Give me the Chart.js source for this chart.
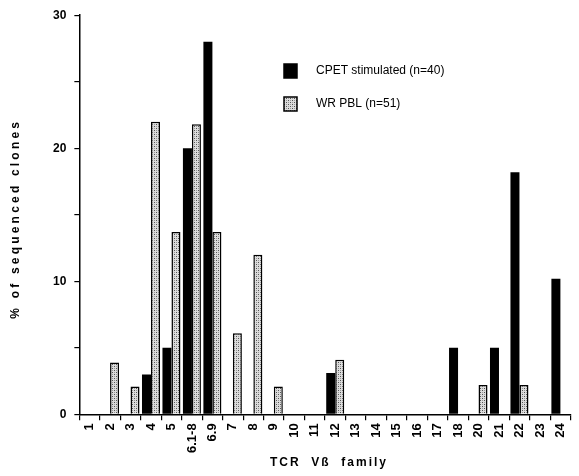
<!DOCTYPE html>
<html>
<head>
<meta charset="utf-8">
<script src="https://cdn.jsdelivr.net/npm/chart.js@4"></script>
<style>
  html, body { margin: 0; padding: 0; background: #fff; }
  #wrap { width: 579px; height: 476px; }
</style>
</head>
<body>
<div id="wrap"><canvas id="chart" width="579" height="476"></canvas></div>
<script>
const families = ["1", "2", "3", "4", "5", "6.1-8", "6.9", "7", "8", "9", "10", "11", "12",
  "13", "14", "15", "16", "17", "18", "20", "21", "22", "23", "24"];
const cpetValues = [0, 0, 0, 3, 5, 20, 28, 0, 0, 0, 0, 0, 3.1, 0, 0, 0, 0, 0, 5, 0, 5, 18.2, 0, 10.2];
const wrValues = [0, 3.9, 2.1, 22, 13.7, 21.8, 13.7, 6.1, 12, 2.1, 0, 0, 4.1, 0, 0, 0, 0, 0, 0, 2.2, 0, 2.2, 0, 0];
const yTicks = [0, 10, 20, 30];
const xTitle = "TCR  Vß  family";
const yTitle = "% of sequenced clones";

function makePattern() {
  const c = document.createElement("canvas");
  c.width = 4; c.height = 4;
  const g = c.getContext("2d");
  g.fillStyle = "#dcdcdc";
  g.fillRect(0, 0, 4, 4);
  g.fillStyle = "#555";
  g.fillRect(0, 0, 1, 1);
  g.fillRect(2, 2, 1, 1);
  g.fillStyle = "#999";
  g.fillRect(2, 0, 1, 1);
  g.fillRect(0, 2, 1, 1);
  return document.getElementById("chart").getContext("2d").createPattern(c, "repeat");
}

const fam = "'Liberation Sans', Arial, sans-serif";

// legend inside the plot and the letter-spaced axis titles
const extras = {
  id: "extras",
  afterDraw(chart) {
    const ctx = chart.ctx;
    const area = chart.chartArea;
    ctx.save();
    chart.data.datasets.forEach((ds, i) => {
      const y = 64 + i * 33;
      ctx.fillStyle = ds.backgroundColor;
      ctx.fillRect(284, y, 13, 14);
      ctx.strokeStyle = "#000";
      ctx.lineWidth = 1.5;
      ctx.strokeRect(284, y, 13, 14);
      ctx.fillStyle = "#000";
      ctx.font = "12px " + fam;
      ctx.textBaseline = "middle";
      ctx.fillText(ds.label, 316, y + 7);
    });

    ctx.fillStyle = "#000";
    ctx.font = "bold 12px " + fam;
    ctx.letterSpacing = "2px";
    ctx.textAlign = "center";
    ctx.textBaseline = "middle";
    ctx.fillText(xTitle, (area.left + area.right) / 2 + 4, 463);

    ctx.translate(16, (area.top + area.bottom) / 2 + 4);
    ctx.rotate(-Math.PI / 2);
    ctx.letterSpacing = "3.2px";
    ctx.fillText(yTitle, 0, 0);
    ctx.restore();
  }
};

window.onload = function () {
  const pattern = makePattern();
  new Chart(document.getElementById("chart"), {
    type: "bar",
    data: {
      labels: families,
      datasets: [
        {
          label: "CPET stimulated (n=40)",
          data: cpetValues,
          backgroundColor: "#000",
          borderColor: "#000",
          borderWidth: 0,
        },
        {
          label: "WR PBL (n=51)",
          data: wrValues,
          backgroundColor: pattern,
          borderColor: "#000",
          borderWidth: 1.5,
        },
      ],
    },
    options: {
      responsive: false,
      animation: false,
      layout: { padding: { top: 14, right: 0, left: 45, bottom: 20 } },
      datasets: { bar: { categoryPercentage: 0.88, barPercentage: 1.0 } },
      plugins: { legend: { display: false }, tooltip: { enabled: false } },
      scales: {
        x: {
          grid: { drawOnChartArea: false, tickLength: 6, color: "#000", lineWidth: 1.2 },
          border: { color: "#000", width: 1.5 },
          ticks: { color: "#000", font: { family: fam, weight: "bold", size: 13 },
            minRotation: 90, maxRotation: 90, autoSkip: false, padding: 3 },
        },
        y: {
          min: 0, max: 30,
          grid: { drawOnChartArea: false, tickLength: 5, color: "#000", lineWidth: 1.2 },
          border: { color: "#000", width: 1.5 },
          ticks: {
            stepSize: 5, color: "#000", font: { family: fam, weight: "bold", size: 12 }, padding: 8,
            callback: (v) => (yTicks.includes(v) ? v : ""),
          },
        },
      },
    },
    plugins: [extras],
  });
};
</script>
</body>
</html>
